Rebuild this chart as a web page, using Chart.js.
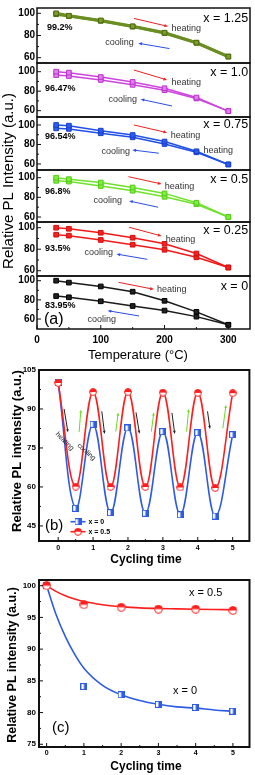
<!DOCTYPE html>
<html>
<head>
<meta charset="utf-8">
<script src="https://cdn.jsdelivr.net/npm/chart.js@4.4.1/dist/chart.umd.min.js"></script>
<style>
  html, body { margin: 0; padding: 0; background: #fff; }
  body { width: 255px; height: 775px; position: relative; overflow: hidden; }
  canvas { position: absolute; left: 0; top: 0; }
</style>
</head>
<body>
<script>
// ---- panel (a): heating / cooling vs temperature ----
const temps = [30, 50, 100, 150, 200, 250, 300];
const heat125 = [100, 97.8, 93.6, 88.3, 82.5, 73.6, 61];
const cool125 = [99.2, 97.5, 93.2, 88, 82.2, 73.4, 61];
const heat100 = [100, 99, 94.5, 89.5, 83, 73.5, 59.5];
const cool100 = [96.47, 95.5, 91.5, 86.5, 81, 72.5, 59.5];
const heat075 = [100, 99.3, 94.2, 89.7, 83, 73, 59.5];
const cool075 = [96.54, 96, 91.5, 87.4, 80.5, 72, 59.5];
const heat050 = [100, 98.5, 95, 90, 84, 74.5, 60];
const cool050 = [96.8, 96, 91.5, 86.7, 80.5, 73, 60];
const heat025 = [100, 99, 95.3, 90.7, 85, 76, 63];
const cool025 = [93.5, 92.6, 88.6, 84.2, 79.5, 72.5, 63];
const heat000 = [100, 98, 94, 88.5, 79, 67.5, 54];
const cool000 = [83.95, 82.7, 78.5, 73.6, 68.8, 62.5, 54];
const tempTicks = [0, 100, 200, 300];
const tempMinor = [50, 150, 250];
const aTicks = [60, 80, 100];
const aMinor = [70, 90];

// ---- panel (b): repeated heating/cooling cycles ----
const cycB = [0, 0.5, 1, 1.5, 2, 2.5, 3, 3.5, 4, 4.5, 5];
const cycleX0 = [100, 51.8, 84.1, 50.1, 82.7, 49.9, 81.3, 49.3, 80.9, 48.8, 80.1];
const cycleX05 = [100, 60.1, 96.5, 60, 96.5, 60, 96.3, 59.8, 96.2, 59.6, 96.1];
const bYTicks = [45, 60, 75, 90, 105];
const bYMinor = [52.5, 67.5, 82.5, 97.5];
const cycTicks = [0, 1, 2, 3, 4, 5];
const cycMinor = [0.5, 1.5, 2.5, 3.5, 4.5];

// ---- panel (c): stability after cycles ----
const cycC = [0, 1, 2, 3, 4, 5];
const stabX0 = [100, 84.1, 82.8, 81.3, 80.8, 80.2];
const stabX05 = [100, 97, 96.6, 96.3, 96.3, 96.1];
const fitX = [0, 0.25, 0.5, 0.75, 1, 1.5, 2, 2.5, 3, 3.5, 4, 4.5, 5];
const fitX0 = [100, 95.5, 92, 89.2, 87, 84.3, 82.8, 81.9, 81.3, 80.9, 80.7, 80.4, 80.2];
const fitX05 = [100, 99.1, 98.4, 97.9, 97.5, 97, 96.7, 96.5, 96.4, 96.35, 96.3, 96.25, 96.2];
const cYTicks = [75, 80, 85, 90, 95, 100];
const cYMinor = [77.5, 82.5, 87.5, 92.5, 97.5];

const W = 255, H = 775;
const FONT = '"Liberation Sans", Arial, Helvetica, sans-serif';
Chart.defaults.font.family = FONT;
Chart.defaults.color = '#000';

const pts = (xs, ys) => xs.map((v, i) => ({ x: v, y: ys[i] }));

function ticksFor(major, minor) {
    return s => { s.ticks = major.concat(minor).sort((a, b) => a - b).map(v => ({ value: v })); };
}
function labelFor(major) {
    return v => major.includes(v) ? String(v) : '';
}

function drawText(ctx, n, px, py) {
    ctx.save();
    ctx.translate(px, py);
    ctx.rotate((n.rot || 0) * Math.PI / 180);
    ctx.font = (n.font || '9px') + ' ' + FONT;
    ctx.fillStyle = n.color || '#000';
    ctx.textAlign = n.align || 'left';
    ctx.textBaseline = 'middle';
    ctx.fillText(n.text, 0, 0);
    ctx.restore();
}

function drawArrow(ctx, x1, y1, x2, y2, color, head) {
    const ang = Math.atan2(y2 - y1, x2 - x1);
    ctx.save();
    ctx.strokeStyle = color;
    ctx.fillStyle = color;
    ctx.lineWidth = 1;
    ctx.beginPath();
    ctx.moveTo(x1, y1);
    ctx.lineTo(x2 - Math.cos(ang) * head * 0.8, y2 - Math.sin(ang) * head * 0.8);
    ctx.stroke();
    ctx.beginPath();
    ctx.moveTo(x2, y2);
    ctx.lineTo(x2 - head * Math.cos(ang - 0.4), y2 - head * Math.sin(ang - 0.4));
    ctx.lineTo(x2 - head * Math.cos(ang + 0.4), y2 - head * Math.sin(ang + 0.4));
    ctx.closePath();
    ctx.fill();
    ctx.restore();
}

function deco(o) {
    return {
        id: 'deco',
        afterDraw(chart) {
            const ctx = chart.ctx, a = chart.chartArea;
            const xs = chart.scales.x, ys = chart.scales.y;
            ctx.save();
            ctx.strokeStyle = '#111';
            ctx.lineWidth = 1;
            const tick = (px, py, dx, dy) => {
                ctx.beginPath(); ctx.moveTo(px, py); ctx.lineTo(px + dx, py + dy); ctx.stroke();
            };
            o.y.major.forEach(v => tick(a.left, ys.getPixelForValue(v), o.tickLen, 0));
            o.y.minor.forEach(v => tick(a.left, ys.getPixelForValue(v), o.tickLen / 2, 0));
            if (o.xAxis) {
                o.x.major.forEach(v => tick(xs.getPixelForValue(v), a.bottom, 0, -o.tickLen));
                o.x.minor.forEach(v => tick(xs.getPixelForValue(v), a.bottom, 0, -o.tickLen / 2));
            }
            ctx.strokeStyle = '#111';
            ctx.lineWidth = o.frameWidth;
            ctx.strokeRect(a.left, a.top, a.right - a.left, a.bottom - a.top);
            (o.arrows || []).forEach(ar => drawArrow(ctx,
                xs.getPixelForValue(ar.from[0]), ys.getPixelForValue(ar.from[1]),
                xs.getPixelForValue(ar.to[0]), ys.getPixelForValue(ar.to[1]), ar.color, ar.head || 4));
            (o.notes || []).forEach(n => drawText(ctx, n, xs.getPixelForValue(n.x), ys.getPixelForValue(n.y)));
            (o.labels || []).forEach(n => drawText(ctx, n, n.x, n.y));
            if (o.legend) o.legend(ctx, chart);
            ctx.restore();
        }
    };
}

function plot(o) {
    const cv = document.createElement('canvas');
    cv.width = W;
    cv.height = H;
    document.body.appendChild(cv);
    const xh = o.xAxis ? o.xAxis.height : 0;
    return new Chart(cv, {
        type: 'line',
        data: { datasets: o.datasets },
        options: {
            responsive: false,
            animation: false,
            devicePixelRatio: 1,
            layout: { padding: { left: 0, top: o.frame.t, right: W - o.frame.r, bottom: H - o.frame.b - xh } },
            plugins: { legend: { display: false }, tooltip: { enabled: false } },
            scales: {
                x: {
                    type: 'linear', min: o.x.min, max: o.x.max,
                    display: !!o.xAxis,
                    grid: { display: false, drawTicks: false },
                    border: { display: false },
                    afterFit: s => { s.height = xh; },
                    afterBuildTicks: ticksFor(o.x.major, o.x.minor),
                    ticks: {
                        autoSkip: false, maxRotation: 0,
                        padding: o.xAxis ? o.xAxis.pad : 0,
                        font: o.xAxis ? o.xAxis.font : { size: 10 },
                        callback: labelFor(o.x.major)
                    }
                },
                y: {
                    type: 'linear', min: o.y.min, max: o.y.max,
                    grid: { display: false, drawTicks: false },
                    border: { display: false },
                    afterFit: s => { s.width = o.frame.l; },
                    afterBuildTicks: ticksFor(o.y.major, o.y.minor),
                    ticks: { autoSkip: false, padding: o.y.pad, font: o.y.font, callback: labelFor(o.y.major) }
                }
            }
        },
        plugins: [deco(o)]
    });
}

// ---------- panel (a) ----------
const RED_AR = '#ee2020', BLUE_AR = '#2a4de8';
const subplots = [
    { name: 'x = 1.25', heat: heat125, cool: cool125, color: '#6b8e23', fill: '#7d9c2c', edge: '#4d6a10', lw: 3,
      t: 1, b: 63, yMin: 55.2, yMax: 104.8, pct: '99.2%', pctAt: [15.5, 87.6], nameY: 95,
      heatAt: [[211, 86.4]], coolAt: [107, 74], red: [[152, 95.4], [205.5, 88.2]], blue: [[207.7, 68.2], [159, 73]] },
    { name: 'x = 1.0', heat: heat100, cool: cool100, color: '#cc44dd', fill: '#e27cf0', edge: '#b833c8', lw: 1.5,
      t: 63, b: 117, yMin: 53.5, yMax: 108.9, pct: '96.47%', pctAt: [12.4, 82.8], nameY: 99.2,
      heatAt: [[211, 88.4]], coolAt: [112, 71], red: [[152, 101.7], [204, 91.5]], blue: [[211.7, 64.8], [162.6, 71.7]] },
    { name: 'x = 0.75', heat: heat075, cool: cool075, color: '#2050e6', fill: '#2a5cf0', edge: '#1a40c8', lw: 1.5,
      t: 117, b: 170, yMin: 53.8, yMax: 108.2, pct: '96.54%', pctAt: [12.4, 87.7], nameY: 100,
      heatAt: [[209.7, 89.2], [261, 73.3]], coolAt: [101, 72.6], red: [[152, 100], [204, 92.1]], blue: [[191, 71], [149.6, 74.4]] },
    { name: 'x = 0.5', heat: heat050, cool: cool050, color: '#6ee32c', fill: '#7cf03a', edge: '#55c81a', lw: 1.5,
      t: 170, b: 222, yMin: 54.9, yMax: 107.8, pct: '96.8%', pctAt: [12.4, 86], nameY: 97.7,
      heatAt: [[200.4, 90.5]], coolAt: [88.5, 76.3], red: [[143.4, 101], [195.3, 93.6]], blue: [[190, 69.9], [144.5, 76.3]] },
    { name: 'x = 0.25', heat: heat025, cool: cool025, color: '#f01818', fill: '#f52020', edge: '#d01010', lw: 1.5,
      t: 222, b: 276, yMin: 55.1, yMax: 105.3, pct: '93.5%', pctAt: [12.4, 80.2], nameY: 96.9,
      heatAt: [[202, 88.6]], coolAt: [74.6, 76.5], red: [[144.5, 100.4], [195.3, 92.3]], blue: [[173, 70.6], [124.7, 75.5]] },
    { name: 'x = 0', heat: heat000, cool: cool000, color: '#1a1a1a', fill: '#222', edge: '#000', lw: 1.5,
      t: 276, b: 329, yMin: 49.6, yMax: 104.9, pct: '83.95%', pctAt: [12.4, 73.6], nameY: 93.7,
      heatAt: [[188, 90.3]], coolAt: [79.2, 60], red: [[127.9, 98.3], [183.3, 91]], blue: [[160, 63.2], [110.8, 68.7]] }
];

subplots.forEach((sp, i) => {
    const last = i === subplots.length - 1;
    const line = d => ({
        data: pts(temps, d),
        borderColor: sp.color, borderWidth: sp.lw,
        pointStyle: 'rect', pointRadius: 3.3,
        pointBackgroundColor: sp.fill, pointBorderColor: sp.edge, pointBorderWidth: 1,
        tension: 0
    });
    const notes = [
        { text: sp.pct, x: sp.pctAt[0], y: sp.pctAt[1], font: 'bold 9px' },
        { text: 'cooling', x: sp.coolAt[0], y: sp.coolAt[1], font: '9px', color: '#333' },
        { text: sp.name, x: 331, y: sp.nameY, font: '12.5px', align: 'right' }
    ];
    sp.heatAt.forEach(h => notes.push({ text: 'heating', x: h[0], y: h[1], font: '9px', color: '#333' }));
    if (last) notes.push({ text: '(a)', x: 10.9, y: 59, font: '16px' });
    const labels = last ? [
        { text: 'Relative PL Intensity (a.u.)', x: 9, y: 181, font: '15px', align: 'center', rot: -90 },
        { text: 'Temperature (\u00B0C)', x: 138, y: 355, font: '13px', align: 'center' }
    ] : [];
    plot({
        frame: { l: 37, r: 252, t: sp.t, b: sp.b },
        x: { min: 0, max: 334, major: tempTicks, minor: tempMinor },
        y: { min: sp.yMin, max: sp.yMax, major: aTicks, minor: aMinor, pad: 2, font: { size: 10, weight: 'bold' } },
        xAxis: last ? { height: 14, pad: 5, font: { size: 10, weight: 'bold' } } : null,
        tickLen: 4, frameWidth: 1.5,
        datasets: [line(sp.heat), line(sp.cool)],
        arrows: [
            { from: sp.red[0], to: sp.red[1], color: RED_AR },
            { from: sp.blue[0], to: sp.blue[1], color: BLUE_AR }
        ],
        notes, labels
    });
});

// ---------- markers ----------
function halfSquare(side, color) {
    const c = document.createElement('canvas');
    c.width = side; c.height = side;
    const g = c.getContext('2d');
    g.fillStyle = '#fff'; g.fillRect(0, 0, side, side);
    g.fillStyle = color; g.fillRect(side / 2, 0, side / 2, side);
    g.strokeStyle = color; g.lineWidth = 1; g.strokeRect(0.5, 0.5, side - 1, side - 1);
    return c;
}
function halfCircle(d, color) {
    const c = document.createElement('canvas');
    c.width = d; c.height = d;
    const g = c.getContext('2d'), r = d / 2;
    g.fillStyle = '#fff'; g.beginPath(); g.arc(r, r, r - 0.6, 0, 2 * Math.PI); g.fill();
    g.fillStyle = color; g.beginPath(); g.arc(r, r, r - 0.6, Math.PI, 2 * Math.PI); g.closePath(); g.fill();
    g.strokeStyle = color; g.lineWidth = 1; g.beginPath(); g.arc(r, r, r - 0.6, 0, 2 * Math.PI); g.stroke();
    return c;
}
const BLUE = '#2d5be6', RED = '#ff1e1e';
const sqB = halfSquare(7, BLUE), ciB = halfCircle(8, RED);
const sqC = halfSquare(7, BLUE), ciC = halfCircle(9, RED);

// ---------- panel (b) ----------
const blackArrows = [[[0.17, 90], [0.28, 81]], [[1.25, 89.1], [1.33, 80.4]], [[2.23, 88.7], [2.33, 80.5]],
                     [[3.26, 88.5], [3.34, 80.4]], [[4.28, 89.1], [4.35, 82.3]]];
const greenArrows = [[[0.6, 81.1], [0.65, 89.7]], [[1.65, 81.3], [1.72, 88.7]], [[2.67, 81.3], [2.74, 88.7]],
                     [[3.68, 81.3], [3.74, 90]], [[4.72, 82.6], [4.81, 91.6]]];

plot({
    frame: { l: 39, r: 252, t: 370, b: 541 },
    x: { min: -0.55, max: 5.48, major: cycTicks, minor: cycMinor },
    y: { min: 39.2, max: 105, major: bYTicks, minor: bYMinor, pad: 3, font: { size: 8, weight: 'bold' } },
    xAxis: { height: 12, pad: 3, font: { size: 7, weight: 'bold' } },
    tickLen: 4, frameWidth: 2,
    datasets: [
        { data: pts(cycB, cycleX05), borderColor: RED, borderWidth: 1.6, tension: 0.4,
          pointStyle: ciB, pointRadius: 4 },
        { data: pts(cycB, cycleX0), borderColor: BLUE, borderWidth: 1.6, tension: 0.4,
          pointStyle: sqB, pointRadius: 4 }
    ],
    arrows: blackArrows.map(a => ({ from: a[0], to: a[1], color: '#222', head: 3.5 }))
        .concat(greenArrows.map(a => ({ from: a[0], to: a[1], color: '#66dd22', head: 3.5 }))),
    notes: [
        { text: 'heating', x: 0.19, y: 77.6, font: '7px', color: '#222', align: 'center', rot: 45 },
        { text: 'cooling', x: 0.81, y: 73.5, font: '7px', color: '#222', align: 'center', rot: 42 }
    ],
    labels: [
        { text: 'Relative PL intensity (a.u.)', x: 17, y: 451, font: 'bold 13px', align: 'center', rot: -90 },
        { text: 'Cycling time', x: 146, y: 560, font: 'bold 12px', align: 'center' },
        { text: '(b)', x: 45, y: 526, font: '15px' }
    ],
    legend: (ctx, chart) => {
        const items = [[521.7, BLUE, sqB, 'x = 0'], [531.7, RED, ciB, 'x = 0.5']];
        items.forEach(it => {
            ctx.strokeStyle = it[1];
            ctx.lineWidth = 1.6;
            ctx.beginPath(); ctx.moveTo(70.5, it[0]); ctx.lineTo(85.5, it[0]); ctx.stroke();
            ctx.drawImage(it[2], 78 - it[2].width / 2, it[0] - it[2].height / 2);
            drawText(ctx, { text: it[3], font: 'bold 7px' }, 88.5, it[0]);
        });
    }
});

// ---------- panel (c) ----------
plot({
    frame: { l: 39, r: 251, t: 580, b: 747 },
    x: { min: -0.205, max: 5.445, major: cycTicks, minor: cycMinor },
    y: { min: 74.57, max: 100.9, major: cYTicks, minor: cYMinor, pad: 3, font: { size: 8, weight: 'bold' } },
    xAxis: { height: 12, pad: 2, font: { size: 7, weight: 'bold' } },
    tickLen: 4, frameWidth: 2,
    datasets: [
        { data: pts(cycC, stabX05), showLine: false, pointStyle: ciC, pointRadius: 4.5 },
        { data: pts(cycC, stabX0), showLine: false, pointStyle: sqC, pointRadius: 4 },
        { data: pts(fitX, fitX05), borderColor: RED, borderWidth: 1.6, pointRadius: 0,
          cubicInterpolationMode: 'monotone' },
        { data: pts(fitX, fitX0), borderColor: BLUE, borderWidth: 1.6, pointRadius: 0,
          cubicInterpolationMode: 'monotone' }
    ],
    labels: [
        { text: 'Relative PL intensity (a.u.)', x: 13, y: 665, font: 'bold 12.5px', align: 'center', rot: -90 },
        { text: 'Cycling time', x: 146, y: 767, font: 'bold 12px', align: 'center' },
        { text: 'x = 0.5', x: 189, y: 593, font: '11px' },
        { text: 'x = 0', x: 173, y: 691, font: '11px' },
        { text: '(c)', x: 52, y: 728, font: '15px' }
    ]
});
</script>
</body>
</html>
